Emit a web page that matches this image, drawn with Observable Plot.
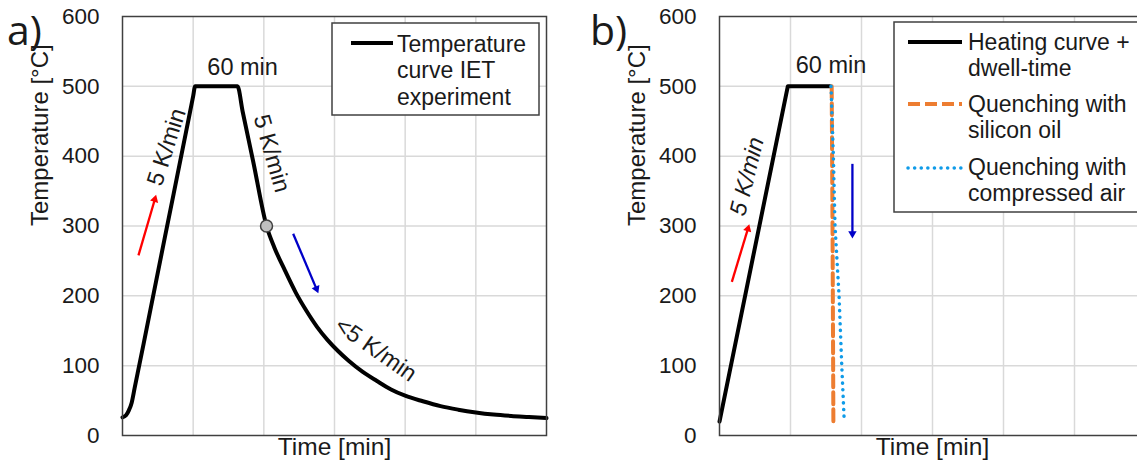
<!DOCTYPE html>
<html><head><meta charset="utf-8">
<script src="https://cdn.jsdelivr.net/npm/d3@7"></script>
<script src="https://cdn.jsdelivr.net/npm/@observablehq/plot@0.6"></script>
<style>
html,body{margin:0;padding:0;background:#fff;}
#wrap{position:relative;width:1137px;height:467px;overflow:hidden;font-family:"Liberation Sans",Arial,sans-serif;}
.panel{position:absolute;top:0;width:560px;height:467px;}
.panel svg{max-width:none !important;}
#overlay{position:absolute;left:0;top:0;}
</style></head><body>
<div id="wrap"><div id="pa" class="panel" style="left:0"></div><div id="pb" class="panel" style="left:597px"></div></div>
<script>
// ---------- data ----------
const yTicks = [0, 100, 200, 300, 400, 500, 600];
const yGrid = [100, 200, 300, 400, 500];
const gridTimes = [1, 2, 3, 4, 5];

// panel a: temperature curve IET experiment (time in grid units)
const curveATime = [0, 0.05, 0.09, 0.13, 0.17, 0.30, 0.60, 0.90, 1.00, 1.028, 1.60, 1.627, 1.70, 1.85, 2.038,
  2.15, 2.30, 2.45, 2.60, 2.75, 2.90, 3.05, 3.20, 3.40, 3.60, 3.80, 4.00, 4.25, 4.50, 4.75, 5.00, 5.25, 5.50, 5.75, 6.00];
const curveATemp = [26, 29, 36, 47, 67, 132, 284, 435, 486, 500, 500, 500, 464, 392, 300,
  269, 236, 205, 179, 156, 137, 121, 107, 91, 78, 66, 57, 49, 42, 37, 33, 30, 28, 26.5, 25];
const markerATime = [2.038];
const markerATemp = [300];

// panel b
const heatBTime = [0, 0.962, 1.557];
const heatBTemp = [20, 500, 500];
const oilBTime = [1.580, 1.592, 1.604];
const oilBTemp = [500, 300, 20];
const airBTime = [1.571, 1.604, 1.627, 1.684, 1.722, 1.755];
const airBTemp = [500, 400, 300, 200, 100, 25];

// annotations
const labelsA = ["60 min", "5 K/min", "5 K/min", "<5 K/min"];
const labelsATime = [1.70, 0.623, 2.113, 3.585];
const labelsATemp = [527, 413, 404, 123];
const labelsB = ["60 min", "5 K/min"];
const labelsBTime = [1.571, 0.387];
const labelsBTemp = [530, 371];

const arrowsA = [
  {x1: 0.226, y1: 258, x2: 0.457, y2: 338, c: "up"},
  {x1: 2.415, y1: 289, x2: 2.745, y2: 210, c: "down"}
];
const arrowsB = [
  {x1: 0.174, y1: 220, x2: 0.400, y2: 296, c: "up"},
  {x1: 1.872, y1: 389, x2: 1.872, y2: 289, c: "down"}
];

const legendA = ["Temperature", "curve IET", "experiment"];
const legendB = ["Heating curve +", "dwell-time", "Quenching with", "silicon oil", "Quenching with", "compressed air"];

// ---------- build ----------
const zip = (xs, ys) => xs.map((t, i) => ({t, T: ys[i]}));
const FONT = '"Liberation Sans", Arial, sans-serif';
const TXT = "#1a1a1a";
const RED = "#ff0000", BLUE = "#0000c8", ORANGE = "#ed7d31", SKY = "#0f9be8";
const DOTS = "0.1,6.5", DASH = "12,5";

function arrowMarks(arrows, pw, ph) {
  const sx = pw / 6, sy = ph / 600;
  const marks = [];
  arrows.forEach(a => {
    const col = a.c === "up" ? RED : BLUE;
    const ang = Math.atan2((a.x2 - a.x1) * sx, (a.y2 - a.y1) * sy) * 180 / Math.PI;
    marks.push(Plot.link([a], {x1: "x1", y1: "y1", x2: "x2", y2: "y2", stroke: col, strokeWidth: 2.3}));
    marks.push(Plot.dot([a], {x: "x2", y: "y2", symbol: "triangle2", r: 4, fill: col, stroke: "none", rotate: ang}));
  });
  return marks;
}

function panel(marginRight, dataMarks) {
  return Plot.plot({
    width: 560, height: 467,
    marginLeft: 122, marginRight, marginTop: 16, marginBottom: 32,
    x: {domain: [0, 6], axis: null},
    y: {domain: [0, 600]},
    style: {fontFamily: FONT, fontSize: "22px", color: TXT, background: "transparent", overflow: "visible", maxWidth: "none"},
    marks: [
      Plot.gridX(gridTimes, {stroke: "#d9d9d9", strokeOpacity: 1, strokeWidth: 1.5}),
      Plot.gridY(yGrid, {stroke: "#d9d9d9", strokeOpacity: 1, strokeWidth: 1.5}),
      Plot.axisY(yTicks, {tickSize: 0, tickPadding: 23, fontSize: 22.5, label: null, fill: TXT}),
      Plot.text(["Temperature [°C]"], {frameAnchor: "left", dx: -82, rotate: -90, fontSize: 24, fill: TXT}),
      Plot.text(["Time [min]"], {frameAnchor: "bottom", dy: 19, fontSize: 24.5, fill: TXT}),
      ...dataMarks,
      Plot.frame({stroke: "#404040", strokeWidth: 1.5})
    ]
  });
}

const curveA = zip(curveATime, curveATemp);
const markerA = zip(markerATime, markerATemp);
const txtA = labelsA.map((s, i) => ({s, t: labelsATime[i], T: labelsATemp[i]}));
const rotA = [0, -72, 74, 35];
const plotA = panel(14, [
  Plot.line(curveA, {x: "t", y: "T", stroke: "black", strokeWidth: 4, curve: "monotone-x"}),
  Plot.dot(markerA, {x: "t", y: "T", r: 6, fill: "#bfbfbf", stroke: "#404040", strokeWidth: 1.5}),
  ...txtA.map((d, i) => Plot.text([d], {x: "t", y: "T", text: "s", rotate: rotA[i], fontSize: 23.5, fill: TXT})),
  ...arrowMarks(arrowsA, 424, 419)
]);
document.getElementById("pa").appendChild(plotA);

const heatB = zip(heatBTime, heatBTemp);
const oilB = zip(oilBTime, oilBTemp);
const airB = zip(airBTime, airBTemp);
const txtB = labelsB.map((s, i) => ({s, t: labelsBTime[i], T: labelsBTemp[i]}));
const rotB = [0, -76];
const plotB = panel(12, [
  Plot.line(heatB, {x: "t", y: "T", stroke: "black", strokeWidth: 4}),
  Plot.line(oilB, {x: "t", y: "T", stroke: ORANGE, strokeWidth: 4, strokeDasharray: DASH}),
  Plot.line(airB, {x: "t", y: "T", stroke: SKY, strokeWidth: 3.5, strokeDasharray: DOTS, strokeLinecap: "round"}),
  ...txtB.map((d, i) => Plot.text([d], {x: "t", y: "T", text: "s", rotate: rotB[i], fontSize: 23.5, fill: TXT, fontStyle: i === 1 ? "italic" : "normal"})),
  ...arrowMarks(arrowsB, 426, 419)
]);
document.getElementById("pb").appendChild(plotB);

// ---------- overlay: panel letters + legends ----------
const ov = d3.select("#wrap").append("svg").attr("id", "overlay")
  .attr("width", 1137).attr("height", 467).style("pointer-events", "none");
ov.append("text").attr("x", 7).attr("y", 45).attr("font-family", '"Open Sans", "DejaVu Sans", sans-serif')
  .attr("font-size", 41).attr("fill", TXT).text("a)");
ov.append("text").attr("x", 590).attr("y", 45).attr("font-family", '"Open Sans", "DejaVu Sans", sans-serif')
  .attr("font-size", 41).attr("fill", TXT).text("b)");

// legend a
const la = ov.append("g");
la.append("rect").attr("x", 332).attr("y", 23).attr("width", 207).attr("height", 92)
  .attr("fill", "white").attr("stroke", "#404040").attr("stroke-width", 1.5);
la.append("line").attr("x1", 351).attr("x2", 393).attr("y1", 43).attr("y2", 43).attr("stroke", "black").attr("stroke-width", 4);
legendA.forEach((s, i) => la.append("text").attr("x", 397).attr("y", 52 + i * 26.3)
  .attr("font-family", FONT).attr("font-size", 23).attr("fill", TXT).text(s));

// legend b
const lb = ov.append("g");
lb.append("rect").attr("x", 894).attr("y", 22).attr("width", 300).attr("height", 190)
  .attr("fill", "white").attr("stroke", "#404040").attr("stroke-width", 1.5);
const sampleY = [42, 104, 168];
const sampleStyle = [["black", 4, null], [ORANGE, 4, DASH], [SKY, 3.5, DOTS]];
sampleY.forEach((y, i) => {
  const l = lb.append("line").attr("x1", 908).attr("x2", 962).attr("y1", y).attr("y2", y)
    .attr("stroke", sampleStyle[i][0]).attr("stroke-width", sampleStyle[i][1]);
  if (sampleStyle[i][2]) l.attr("stroke-dasharray", sampleStyle[i][2]);
  if (i === 2) l.attr("stroke-linecap", "round");
});
const legBY = [50, 76, 112, 138, 175, 201];
legendB.forEach((s, i) => lb.append("text").attr("x", 968).attr("y", legBY[i])
  .attr("font-family", FONT).attr("font-size", 23).attr("fill", TXT).text(s));
</script>
</body></html>
